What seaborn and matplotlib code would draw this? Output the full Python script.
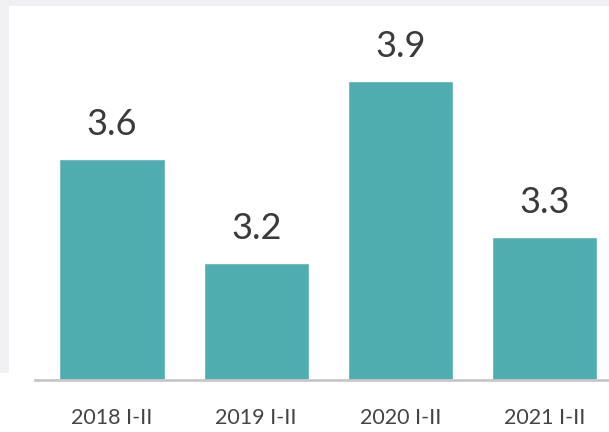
import matplotlib.pyplot as plt
import seaborn as sns
import pandas as pd
from matplotlib.patches import Rectangle

# data
periods = ["2018 I-II", "2019 I-II", "2020 I-II", "2021 I-II"]
values = [3.6, 3.2, 3.9, 3.3]

df = pd.DataFrame({"period": periods, "value": values})

sns.set_style("white")
plt.rcParams['font.family'] = ['Lato', 'DejaVu Sans']

fig = plt.figure(figsize=(6.09, 4.32), dpi=100)
fig.patch.set_facecolor("white")

# light gray frame of the screenshot (top strip and left strip)
fig.patches.append(Rectangle((0, 1 - 6 / 432), 1, 6 / 432, transform=fig.transFigure,
                             facecolor="#f0f0f2", edgecolor="none", zorder=0))
fig.patches.append(Rectangle((0, 59 / 432), 9 / 609, 1 - 59 / 432, transform=fig.transFigure,
                             facecolor="#f0f0f2", edgecolor="none", zorder=0))

ax = fig.add_axes([35 / 609, 52 / 432, 574 / 609, 374 / 432])
ax.set_facecolor("none")

sns.barplot(data=df, x="period", y="value", color="#4fadb0", width=0.73,
            saturation=1, ax=ax)

ax.set_ylim(2.75, 4.19)
ax.set_xlim(-0.534, 3.447)
ax.bar_label(ax.containers[0], labels=[f"{v:.1f}" for v in values],
             padding=13, fontsize=26, color="#3a3a3a")

for s in ["top", "right", "left"]:
    ax.spines[s].set_visible(False)
ax.spines["bottom"].set_color("#c8c8c8")
ax.spines["bottom"].set_linewidth(2)
ax.set_yticks([])
ax.set_xlabel("")
ax.set_ylabel("")
ax.tick_params(axis="x", length=0, pad=20, labelsize=15.5, labelcolor="#444444")

plt.savefig("out.png", dpi=100)
